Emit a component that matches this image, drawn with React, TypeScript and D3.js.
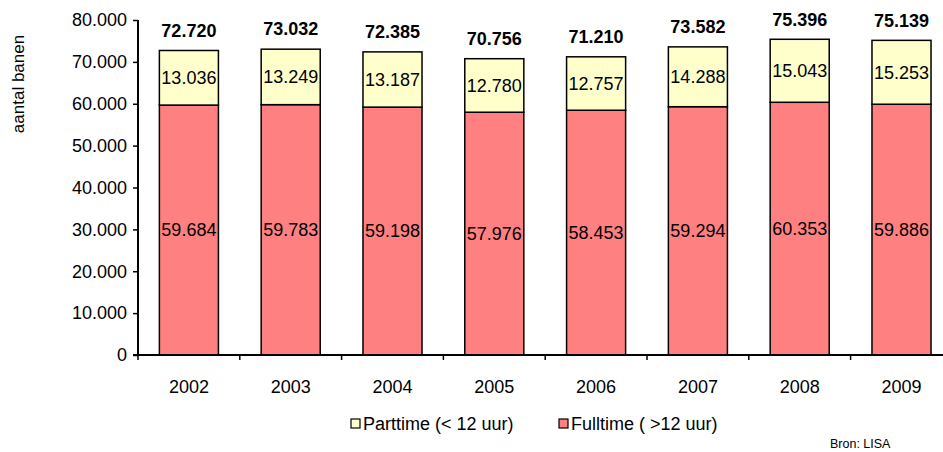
import { useEffect, useRef } from 'react';
import * as d3 from 'd3';

const years = ['2002', '2003', '2004', '2005', '2006', '2007', '2008', '2009'];
const fulltime = [59684, 59783, 59198, 57976, 58453, 59294, 60353, 59886];
const parttime = [13036, 13249, 13187, 12780, 12757, 14288, 15043, 15253];
const yTicks = [0, 10000, 20000, 30000, 40000, 50000, 60000, 70000, 80000];

const nl = d3.formatLocale({ decimal: ',', thousands: '.', grouping: [3], currency: ['€', ''] });
const fmt = nl.format(',d');

const FONT = 'Arial, "Liberation Sans", sans-serif';

const App = () => {
  const ref = useRef<SVGSVGElement>(null);

  useEffect(() => {
    const width = 943;
    const height = 452;
    const margin = { top: 20, left: 138, bottom: 97 };
    const plotBottom = height - margin.bottom; // 355

    const svg = d3.select(ref.current);
    svg.selectAll('*').remove();
    svg.attr('width', width).attr('height', height).style('font-family', FONT);

    const x = d3.scaleBand().domain(years).range([margin.left, margin.left + 8 * 101.8]).paddingInner(0.42).paddingOuter(0.21);
    const y = d3.scaleLinear().domain([0, 80000]).range([plotBottom, margin.top]);

    const data = years.map((yr, i) => ({ yr, full: fulltime[i], part: parttime[i], total: fulltime[i] + parttime[i] }));

    const g = svg.append('g');

    // fulltime segments
    g.selectAll('rect.full')
      .data(data)
      .enter().append('rect')
      .attr('x', d => x(d.yr)!)
      .attr('width', x.bandwidth())
      .attr('y', d => y(d.full))
      .attr('height', d => y(0) - y(d.full))
      .attr('fill', '#FF8080')
      .attr('stroke', '#000')
      .attr('stroke-width', 1.5);

    // parttime segments
    g.selectAll('rect.part')
      .data(data)
      .enter().append('rect')
      .attr('x', d => x(d.yr)!)
      .attr('width', x.bandwidth())
      .attr('y', d => y(d.total))
      .attr('height', d => y(d.full) - y(d.total))
      .attr('fill', '#FFFFCC')
      .attr('stroke', '#000')
      .attr('stroke-width', 1.5);

    const cx = (d: { yr: string }) => x(d.yr)! + x.bandwidth() / 2;

    g.selectAll('text.full')
      .data(data)
      .enter().append('text')
      .attr('x', cx)
      .attr('y', d => y(d.full / 2))
      .attr('dy', '0.35em')
      .attr('text-anchor', 'middle')
      .style('font-size', '18px')
      .text(d => fmt(d.full));

    g.selectAll('text.part')
      .data(data)
      .enter().append('text')
      .attr('x', cx)
      .attr('y', d => y(d.full + d.part / 2))
      .attr('dy', '0.35em')
      .attr('text-anchor', 'middle')
      .style('font-size', '18px')
      .text(d => fmt(d.part));

    g.selectAll('text.total')
      .data(data)
      .enter().append('text')
      .attr('x', cx)
      .attr('y', d => y(d.total) - 20)
      .attr('dy', '0.35em')
      .attr('text-anchor', 'middle')
      .style('font-size', '18px')
      .style('font-weight', 'bold')
      .text(d => fmt(d.total));

    // y axis
    const yAxis = svg.append('g')
      .attr('transform', `translate(${margin.left},0)`)
      .call(d3.axisLeft(y).tickValues(yTicks).tickFormat(d => fmt(d as number)).tickSize(5).tickPadding(6));
    yAxis.select('.domain').attr('stroke', '#000').attr('stroke-width', 2).attr('d', `M0,${margin.top}V${plotBottom}`);
    yAxis.selectAll('.tick line').attr('stroke-width', 1.5);
    yAxis.selectAll('text').style('font-size', '18px').attr('fill', '#000').style('font-family', FONT);

    // x axis
    const xAxis = svg.append('g').attr('transform', `translate(0,${plotBottom})`);
    xAxis.append('line')
      .attr('x1', margin.left - 5).attr('x2', width)
      .attr('stroke', '#000').attr('stroke-width', 2);
    xAxis.selectAll('line.tick')
      .data(d3.range(years.length + 1))
      .enter().append('line')
      .attr('x1', i => margin.left + i * x.step()).attr('x2', i => margin.left + i * x.step())
      .attr('y1', 0).attr('y2', 5)
      .attr('stroke', '#000').attr('stroke-width', 1.5);
    xAxis.selectAll('text')
      .data(years)
      .enter().append('text')
      .attr('x', d => x(d)! + x.bandwidth() / 2)
      .attr('y', 38)
      .attr('text-anchor', 'middle')
      .style('font-size', '18px')
      .text(d => d);

    svg.append('text')
      .attr('transform', 'translate(24,84) rotate(-90)')
      .attr('text-anchor', 'middle')
      .style('font-size', '17px')
      .text('aantal banen');

    // legend
    const legend = [
      { label: 'Parttime (< 12 uur)', color: '#FFFFCC', x: 351 },
      { label: 'Fulltime ( >12 uur)', color: '#FF8080', x: 559 },
    ];
    const lg = svg.selectAll('g.legend').data(legend).enter().append('g')
      .attr('transform', d => `translate(${d.x},424)`);
    lg.append('rect')
      .attr('x', 0).attr('y', -5).attr('width', 9).attr('height', 9)
      .attr('fill', d => d.color).attr('stroke', '#000').attr('stroke-width', 1.2);
    lg.append('text')
      .attr('x', 12).attr('y', 0).attr('dy', '0.35em')
      .style('font-size', '18px')
      .text(d => d.label);

    svg.append('text')
      .attr('x', 830).attr('y', 448)
      .style('font-size', '12.5px')
      .text('Bron: LISA');
  }, []);

  return <svg ref={ref} style={{ display: 'block', position: 'absolute', left: 0, top: 0 }} />;
};

export default App;
